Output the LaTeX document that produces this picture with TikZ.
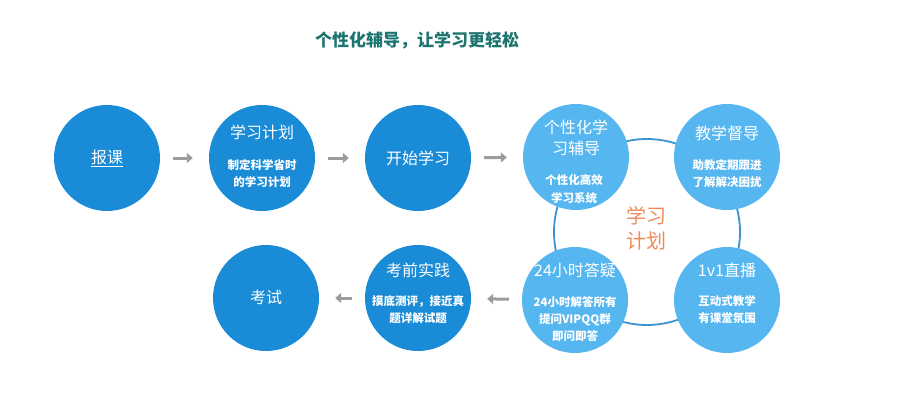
\documentclass[tikz,border=0pt]{standalone}
\usepackage{fontspec}
\setmainfont{Noto Sans CJK SC}
\usetikzlibrary{arrows.meta}
\definecolor{dkblue}{HTML}{1A8BD6}
\definecolor{ltblue}{HTML}{56B6F0}
\definecolor{ringblue}{HTML}{3D93CF}
\definecolor{planorange}{HTML}{F08A5B}
\definecolor{titlegreen}{HTML}{1D7570}
\begin{document}
\begin{tikzpicture}[x=1pt,y=-1pt,
    ball/.style={circle,minimum size=106pt,inner sep=0pt},
    big/.style={text=white,inner sep=0pt,align=center,font=\fontsize{16}{21}\selectfont},
    small/.style={text=white,inner sep=0pt,align=center,font=\fontsize{11.5}{17}\selectfont\bfseries},
    arr/.style={-{Triangle[length=6pt,width=10pt]},line width=3pt,color=gray!78,shorten <=13pt,shorten >=16pt}]
        \useasboundingbox (0,0) rectangle (900,400);
        \node[text=titlegreen,font=\fontsize{17}{17}\selectfont\bfseries](title)at(417,40){个性化辅导，让学习更轻松};
        %ring behind the four light circles
        \node[circle,draw=ringblue,line width=1.8pt,minimum size=186pt,inner sep=0pt](ring)at(647,232){};
        \node[ball,fill=dkblue](baoke)at(107,158){};
        \node[ball,fill=dkblue](jihua)at(262,158){};
        \node[ball,fill=dkblue](kaishi)at(418,158){};
        \node[ball,fill=ltblue](fudao)at(576,157){};
        \node[ball,fill=ltblue](dudao)at(727,157){};
        \node[ball,fill=ltblue](zhibo)at(727,300){};
        \node[ball,fill=ltblue](dayi)at(575,300){};
        \node[ball,fill=dkblue](shijian)at(418,298){};
        \node[ball,fill=dkblue](kaoshi)at(266,298){};
        \node[big](baoke-t)at(107,158){\underline{报课}};
        \node[big](jihua-t)at(262,132){学习计划};
        \node[small](jihua-s)at(262,173.5){制定科学省时\\的学习计划};
        \node[big](kaishi-t)at(418,158){开始学习};
        \node[big](fudao-t)at(576,137.5){个性化学\\习辅导};
        \node[small,font=\fontsize{11.5}{18}\selectfont\bfseries](fudao-s)at(574,189){个性化高效\\学习系统};
        \node[big](dudao-t)at(727,133){教学督导};
        \node[small](dudao-s)at(727,173.5){助教定期跟进\\了解解决困扰};
        \node[big](zhibo-t)at(727,270){1v1直播};
        \node[small](zhibo-s)at(727,310){互动式教学\\有课堂氛围};
        \node[big](dayi-t)at(575,270){24小时答疑};
        \node[small](dayi-s)at(575,319){24小时解答所有\\提问VIPQQ群\\即问即答};
        \node[big](shijian-t)at(418,270){考前实践};
        \node[small](shijian-s)at(418,310){摸底测评，接近真\\题详解试题};
        \node[big](kaoshi-t)at(266,297){考试};
        \node[text=planorange,inner sep=0pt,align=center,font=\fontsize{20}{25}\selectfont](plan)at(646,228){学习\\计划};
        \foreach \a/\b in {baoke/jihua,jihua/kaishi,kaishi/fudao,dayi/shijian,shijian/kaoshi}
            \draw[arr](\a)--(\b);
    \end{tikzpicture}
\end{document}
